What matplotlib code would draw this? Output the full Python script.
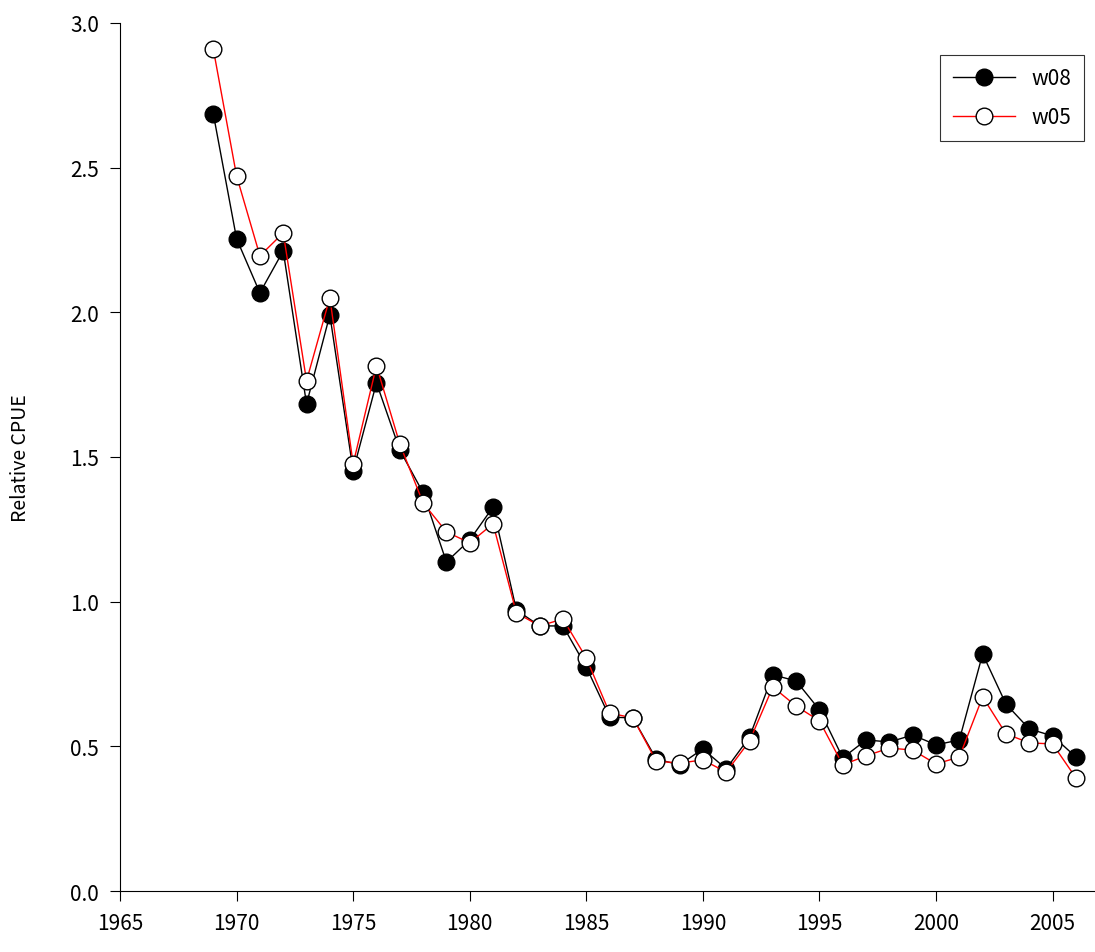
import matplotlib
matplotlib.use("Agg")
import matplotlib.pyplot as plt

plt.rcParams['font.family'] = ['Noto Sans CJK JP', 'DejaVu Sans']

years = list(range(1969, 2007))
w08 = [2.686, 2.254, 2.067, 2.212, 1.683, 1.991, 1.452, 1.756, 1.524, 1.376,
       1.137, 1.213, 1.327, 0.971, 0.916, 0.916, 0.774, 0.601, 0.598, 0.456,
       0.436, 0.491, 0.422, 0.532, 0.747, 0.726, 0.626, 0.460, 0.522, 0.515,
       0.539, 0.505, 0.522, 0.819, 0.646, 0.560, 0.536, 0.463]
w05 = [2.910, 2.471, 2.195, 2.274, 1.763, 2.050, 1.476, 1.815, 1.545, 1.341,
       1.241, 1.203, 1.269, 0.961, 0.916, 0.940, 0.805, 0.615, 0.598, 0.449,
       0.442, 0.453, 0.411, 0.518, 0.705, 0.639, 0.588, 0.436, 0.467, 0.494,
       0.487, 0.439, 0.463, 0.671, 0.543, 0.512, 0.508, 0.391]

fig = plt.figure(figsize=(10.95, 9.53), dpi=100)
ax = fig.add_axes([0.1096, 0.064, 0.89, 0.911])
ax.plot(years, w08, '-o', color='black', lw=1, ms=12, mfc='black', mec='black', label='w08', zorder=2)
ax.plot(years, w05, '-o', color='red', lw=1, ms=12, mfc='white', mec='black', label='w05', zorder=3)

ax.set_xlim(1965, 2006.8)
ax.set_ylim(0, 3.0)
ax.set_xticks(range(1965, 2006, 5))
ax.set_yticks([0, 0.5, 1.0, 1.5, 2.0, 2.5, 3.0])
ax.set_yticklabels(['0.0', '0.5', '1.0', '1.5', '2.0', '2.5', '3.0'])
ax.spines['top'].set_visible(False)
ax.spines['right'].set_visible(False)
ax.tick_params(direction='out', length=7, labelsize=15, pad=8)
ax.set_ylabel('Relative CPUE', fontsize=14, labelpad=28)

leg = ax.legend(loc='upper right', bbox_to_anchor=(1.0, 0.975), fontsize=15,
                frameon=True, fancybox=False, edgecolor='black', handlelength=3,
                borderpad=0.6, labelspacing=0.8)
leg.get_frame().set_linewidth(0.8)

fig.savefig('out.png', dpi=100)
